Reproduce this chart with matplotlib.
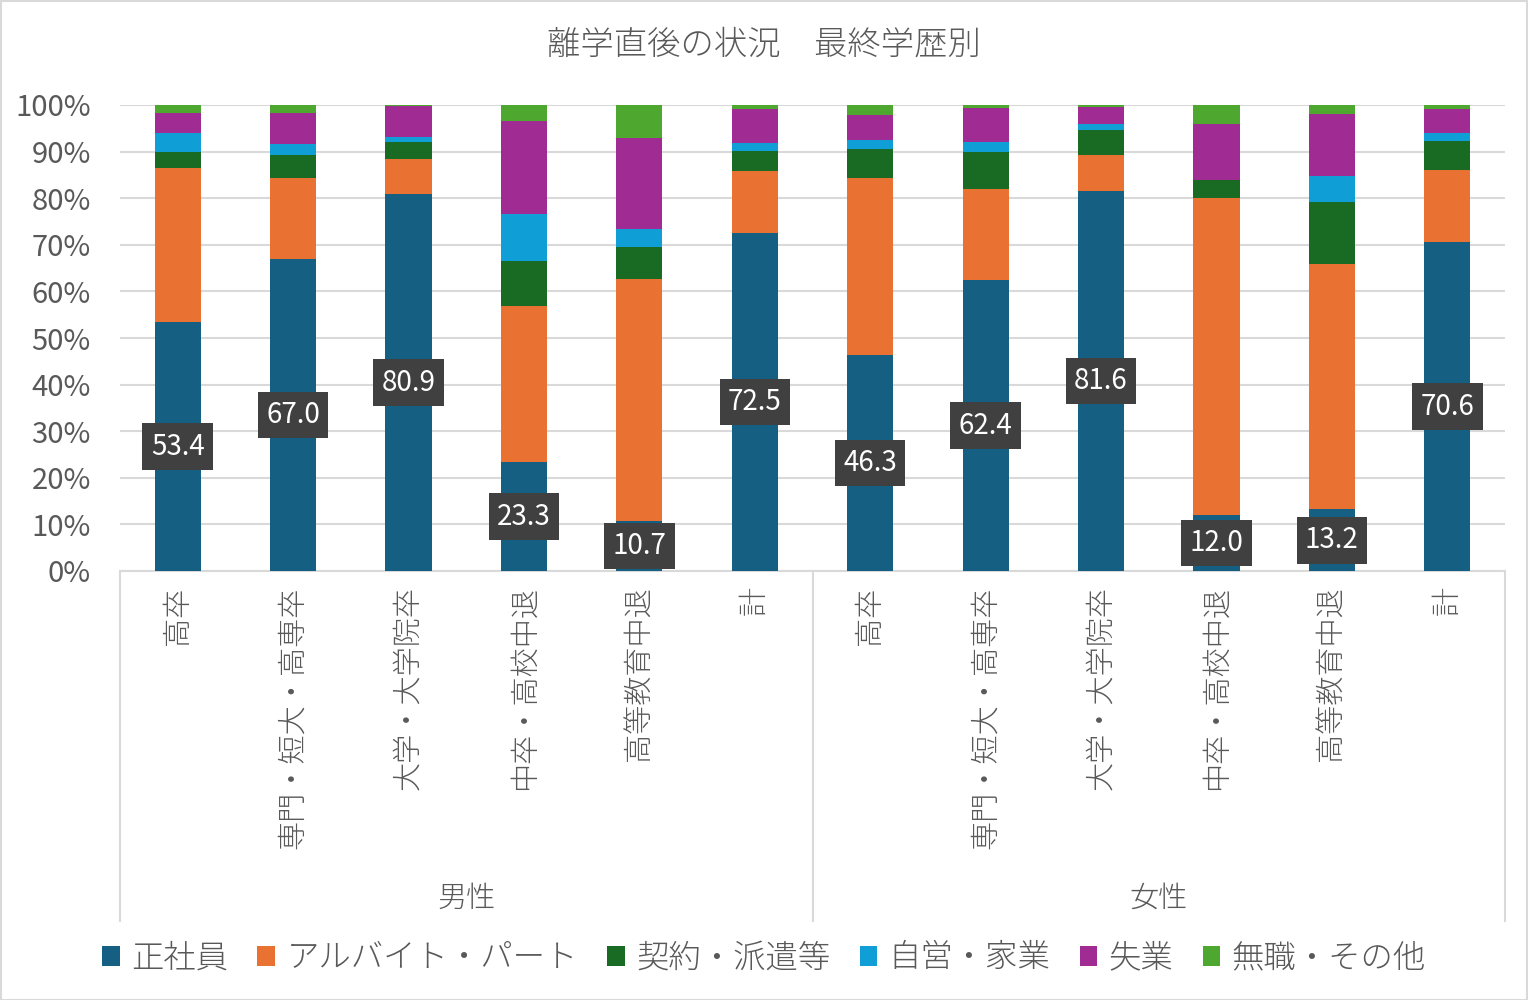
import numpy as np
import matplotlib
matplotlib.use("Agg")
import matplotlib.pyplot as plt
from matplotlib.patches import Rectangle, Patch

plt.rcParams['font.family'] = ['Noto Sans CJK JP', 'DejaVu Sans']
plt.rcParams['font.weight'] = 'light'

categories = ['高卒', '専門・短大・高専卒', '大学・大学院卒', '中卒・高校中退', '高等教育中退', '計'] * 2
groups = ['男性', '女性']
series = ['正社員', 'アルバイト・パート', '契約・派遣等', '自営・家業', '失業', '無職・その他']
colors = ['#156082', '#E97132', '#196B24', '#0F9ED5', '#A02B93', '#4EA72E']

seishain = [53.4, 67.0, 80.9, 23.3, 10.7, 72.5, 46.3, 62.4, 81.6, 12.0, 13.2, 70.6]
arbeit = [33.1, 17.3, 7.5, 33.5, 51.9, 13.3, 38.0, 19.6, 7.6, 68.0, 52.7, 15.4]
keiyaku = [3.4, 4.9, 3.6, 9.8, 7.0, 4.3, 6.2, 7.9, 5.4, 3.9, 13.3, 6.2]
jiei = [4.0, 2.4, 1.1, 10.0, 3.7, 1.7, 1.9, 2.1, 1.3, 0.0, 5.6, 1.7]
shitsugyo = [4.3, 6.6, 6.7, 19.9, 19.6, 7.3, 5.4, 7.3, 3.6, 12.0, 13.2, 5.2]
mushoku = [1.8, 1.8, 0.2, 3.5, 7.1, 0.9, 2.2, 0.7, 0.5, 4.1, 2.0, 0.9]

data = [seishain, arbeit, keiyaku, jiei, shitsugyo, mushoku]

text_color = '#595959'
grid_color = '#D9D9D9'

fig = plt.figure(figsize=(15.28, 10.0), dpi=100)
ax = fig.add_axes([120 / 1528, 1 - 571 / 1000, 1385 / 1528, 466 / 1000])

x = np.arange(len(categories))
bottom = np.zeros(len(categories))
for name, vals, c in zip(series, data, colors):
    vals = np.array(vals)
    ax.bar(x, vals, 0.4, bottom=bottom, color=c, label=name, zorder=3)
    bottom += vals

# data labels on 正社員
for xi, v in zip(x, seishain):
    ax.text(xi, v / 2, f'{v:.1f}', ha='center', va='center', color='white',
            fontsize=20, fontweight='normal', zorder=5,
            bbox=dict(boxstyle='square,pad=0.3', facecolor='#404040', edgecolor='none'))

ax.set_xlim(-0.5, len(categories) - 0.5)
ax.set_ylim(0, 100)
ax.set_yticks(np.arange(0, 101, 10))
ax.set_yticklabels([f'{t}%' for t in range(0, 101, 10)], fontweight='normal')
ax.yaxis.grid(True, color=grid_color, linewidth=1.5, zorder=0)
ax.tick_params(axis='y', length=0, pad=21, labelsize=21, labelcolor=text_color)

ax.set_xticks(x)
ax.set_xticklabels(categories, rotation=90, fontsize=21, color=text_color)
ax.tick_params(axis='x', length=0, pad=11)

for s in ['left', 'right', 'top']:
    ax.spines[s].set_visible(False)
ax.spines['bottom'].set_color(grid_color)
ax.spines['bottom'].set_linewidth(1.5)

# group separators and labels
tr = ax.get_xaxis_transform()
for xs in [-0.5, 5.5, 11.5]:
    ax.plot([xs, xs], [0, -0.75], transform=tr, color=grid_color, lw=1.5, clip_on=False)
for gi, g in enumerate(groups):
    ax.text(gi * 6 + 2.5, -0.703, g, transform=tr, ha='center', va='center',
            fontsize=21, color=text_color)

fig.text(0.5, 0.955, '離学直後の状況　最終学歴別', ha='center', va='center',
         fontsize=24, color=text_color)

handles = [Patch(facecolor=c, label=n) for n, c in zip(series, colors)]
fig.legend(handles=handles, loc='center', bbox_to_anchor=(0.5, 0.042), ncol=6,
           frameon=False, fontsize=23.3, labelcolor=text_color,
           handlelength=0.55, handleheight=0.55, handletextpad=0.35, columnspacing=0.9)

fig.patches.append(Rectangle((0.0005, 0.0005), 0.999, 0.999, transform=fig.transFigure,
                             fill=False, edgecolor=grid_color, linewidth=1.5))

fig.savefig('out.png', dpi=100)
